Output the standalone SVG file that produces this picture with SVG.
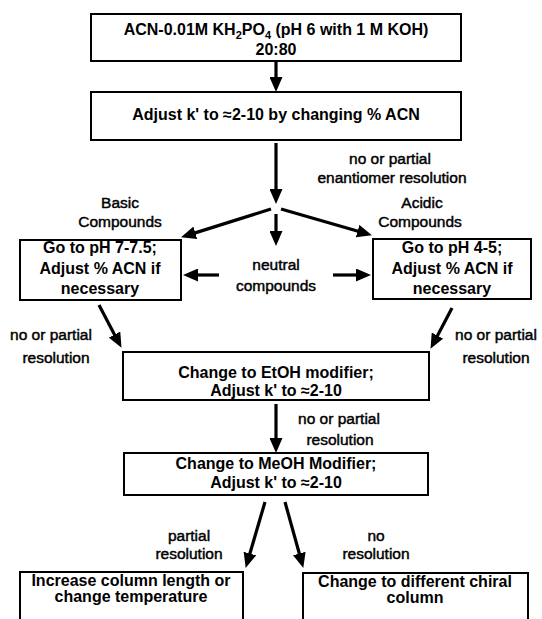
<svg xmlns="http://www.w3.org/2000/svg" width="542" height="619" viewBox="0 0 542 619">
<style>
.box{fill:#fff;stroke:#000;stroke-width:2}
.bt{font-family:"Liberation Sans",Arial,Helvetica,sans-serif;font-weight:bold;font-size:16px;text-anchor:middle;fill:#000}
.lt{font-family:"Liberation Sans",Arial,Helvetica,sans-serif;font-size:15.5px;text-anchor:middle;fill:#000;stroke:#000;stroke-width:0.45}
.ar{stroke:#000;stroke-width:3.2;fill:none;marker-end:url(#ah)}
</style>
<defs>
<marker id="ah" markerUnits="userSpaceOnUse" markerWidth="15" markerHeight="13" refX="6" refY="6.5" orient="auto" viewBox="0 0 15 13">
<path d="M0,0 L15,6.5 L0,13 z" fill="#000"/>
</marker>
</defs>
<rect width="542" height="619" fill="#fff"/>
<g id="n1">
<rect class="box" x="91" y="14" width="370" height="47"/>
<text class="bt" x="276" y="35" font-size="16.5">ACN-0.01M KH<tspan font-size="11" dy="4">2</tspan><tspan dy="-4">PO</tspan><tspan font-size="11" dy="4">4</tspan><tspan dy="-4"> (pH 6 with 1 M KOH)</tspan></text>
<text class="bt" x="276" y="55">20:80</text>
</g>
<g id="n2">
<rect class="box" x="91" y="92" width="370" height="48"/>
<text class="bt" x="276" y="120">Adjust k' to ≈2-10 by changing % ACN</text>
</g>
<g id="n3">
<rect class="box" x="20" y="240" width="161" height="60"/>
<text class="bt" x="100" y="253">Go to pH 7-7.5;</text>
<text class="bt" x="100" y="274">Adjust % ACN if</text>
<text class="bt" x="100" y="294">necessary</text>
</g>
<g id="n4">
<rect class="box" x="373" y="239" width="158" height="60"/>
<text class="bt" x="452" y="253">Go to pH 4-5;</text>
<text class="bt" x="452" y="274">Adjust % ACN if</text>
<text class="bt" x="452" y="294">necessary</text>
</g>
<g id="n5">
<rect class="box" x="123" y="352" width="306" height="48"/>
<text class="bt" x="276" y="378">Change to EtOH modifier;</text>
<text class="bt" x="276" y="396">Adjust k' to ≈2-10</text>
</g>
<g id="n6">
<rect class="box" x="124" y="453" width="304" height="42"/>
<text class="bt" x="276" y="469">Change to MeOH Modifier;</text>
<text class="bt" x="276" y="488">Adjust k' to ≈2-10</text>
</g>
<g id="n7">
<rect class="box" x="20" y="572" width="223" height="60"/>
<text class="bt" x="131" y="586">Increase column length or</text>
<text class="bt" x="131" y="602">change temperature</text>
</g>
<g id="n8">
<rect class="box" x="303" y="573" width="225" height="60"/>
<text class="bt" x="415" y="587">Change to different chiral</text>
<text class="bt" x="415" y="603">column</text>
</g>
<g id="labels">
<text class="lt" x="390" y="164">no or partial</text>
<text class="lt" x="392" y="183">enantiomer resolution</text>
<text class="lt" x="120" y="208">Basic</text>
<text class="lt" x="120" y="227">Compounds</text>
<text class="lt" x="422" y="208">Acidic</text>
<text class="lt" x="420" y="227">Compounds</text>
<text class="lt" x="276" y="270">neutral</text>
<text class="lt" x="276" y="291">compounds</text>
<text class="lt" x="51" y="340">no or partial</text>
<text class="lt" x="56" y="363">resolution</text>
<text class="lt" x="496" y="340">no or partial</text>
<text class="lt" x="496" y="363">resolution</text>
<text class="lt" x="339" y="424">no or partial</text>
<text class="lt" x="340" y="445">resolution</text>
<text class="lt" x="189" y="541">partial</text>
<text class="lt" x="189" y="559">resolution</text>
<text class="lt" x="376" y="541">no</text>
<text class="lt" x="376" y="559">resolution</text>
</g>
<g id="connectors">
<line class="ar" x1="276" y1="62" x2="276" y2="83"/>
<line class="ar" x1="276" y1="143" x2="276" y2="195"/>
<line class="ar" x1="271" y1="209" x2="189.6" y2="234.6"/>
<line class="ar" x1="281" y1="209" x2="363.3" y2="232.8"/>
<line class="ar" x1="276" y1="214" x2="276" y2="237"/>
<line class="ar" x1="219" y1="275" x2="192" y2="275"/>
<line class="ar" x1="333" y1="275" x2="362" y2="275"/>
<line class="ar" x1="99" y1="305" x2="117.3" y2="339.9"/>
<line class="ar" x1="452" y1="308" x2="434.7" y2="340.9"/>
<line class="ar" x1="276" y1="404" x2="276" y2="444"/>
<line class="ar" x1="265" y1="502" x2="248.2" y2="559.3"/>
<line class="ar" x1="285" y1="502" x2="300.9" y2="559.3"/>
</g>
</svg>
